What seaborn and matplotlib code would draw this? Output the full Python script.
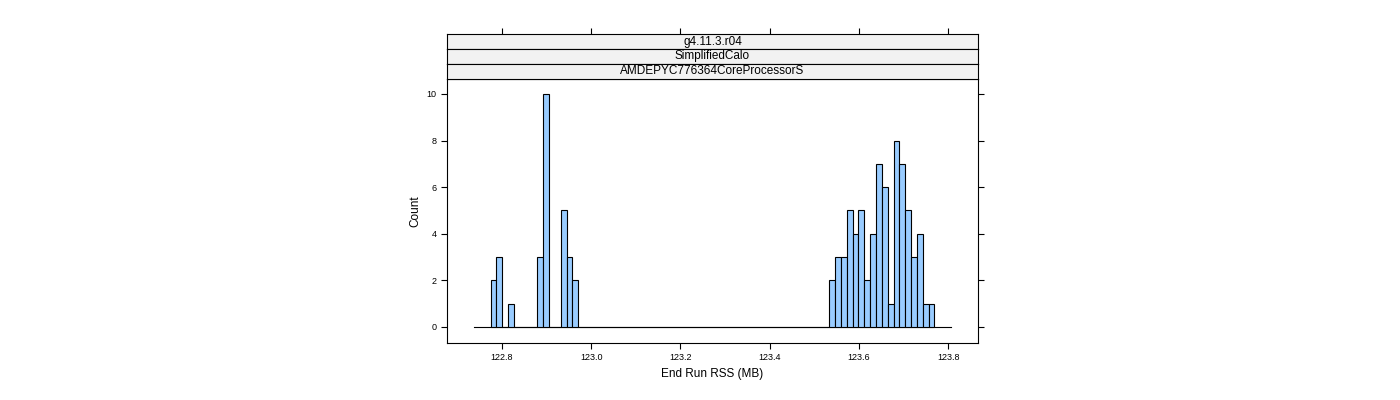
import matplotlib
matplotlib.use("Agg")
import matplotlib.pyplot as plt
import seaborn as sns
import numpy as np
import pandas as pd

plt.rcParams["font.family"] = "Liberation Sans"

bin_start = 122.7747
bin_width = 0.013087
bin_index = [0, 1, 3, 8, 9, 12, 13, 14,
             58, 59, 60, 61, 62, 63, 64, 65, 66, 67, 68, 69, 70, 71, 72, 73, 74, 75]
counts = [2, 3, 1, 3, 10, 5, 3, 2,
          2, 3, 3, 5, 4, 5, 2, 4, 7, 6, 1, 8, 7, 5, 3, 4, 1, 1]
strip_labels = ["g4.11.3.r04", "SimplifiedCalo", "AMDEPYC776364CoreProcessorS"]
x_ticks = [122.8, 123.0, 123.2, 123.4, 123.6, 123.8]
y_ticks = [0, 2, 4, 6, 8, 10]
baseline = (122.737, 123.807)

centers = [bin_start + (i + 0.5) * bin_width for i in bin_index]
edges = [float(bin_start + k * bin_width) for k in range(77)]
df = pd.DataFrame({"rss": centers, "n": counts})

W, H = 1400, 400
fig = plt.figure(figsize=(14, 4), dpi=100)
px, pw = 447 / W, (978 - 447) / W
ax = fig.add_axes([px, 1 - 343 / H, pw, (343 - 79) / H])
sns.histplot(data=df, x="rss", weights="n", bins=edges, ax=ax,
             color="#99CCFF", edgecolor="black", linewidth=0.8, alpha=1)
ax.plot(baseline, [0, 0], color="black", lw=0.8, zorder=0)
ax.set_xlim(122.677, 123.867)
ax.set_ylim(-0.69, 10.64)
ax.set_xticks(x_ticks)
ax.set_xticklabels([f"{t:.1f}" for t in x_ticks])
ax.set_yticks(y_ticks)
ax.tick_params(axis="both", direction="out", labelsize=6.5, length=4, width=0.8,
               right=True, top=False)
ax.set_xlabel("End Run RSS (MB)", fontsize=8.5)
ax.set_ylabel("Count", fontsize=8.5)
for s in ax.spines.values():
    s.set_linewidth(0.8)

tops = [34, 49, 64]
for i, lab in enumerate(strip_labels):
    sa = fig.add_axes([px, 1 - (tops[i] + 15) / H, pw, 15 / H])
    sa.set_facecolor("#F2F2F2")
    sa.set_xlim(ax.get_xlim())
    sa.set_yticks([])
    if i == 0:
        sa.set_xticks(x_ticks)
        sa.tick_params(axis="x", bottom=False, top=True, labelbottom=False,
                       direction="out", length=4, width=0.8)
    else:
        sa.set_xticks([])
    for s in sa.spines.values():
        s.set_linewidth(0.8)
    sa.text(0.5, 0.5, lab, transform=sa.transAxes, ha="center", va="center", fontsize=8.5)

fig.savefig("out.png", dpi=100)
